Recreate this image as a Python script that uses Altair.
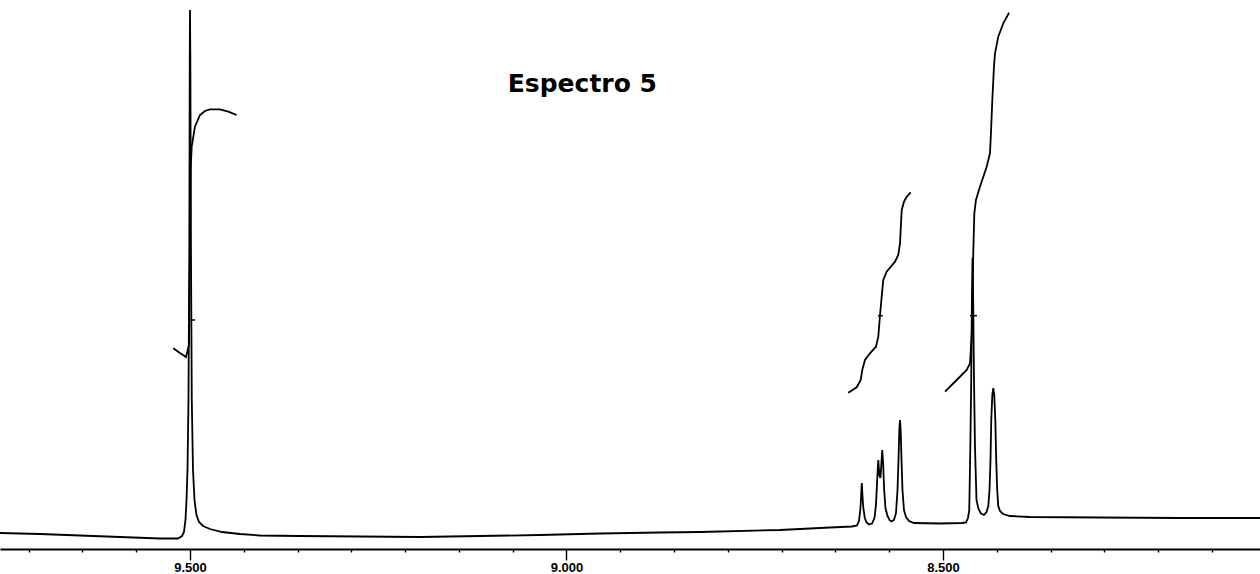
import altair as alt
import pandas as pd

# 1H NMR trace: chemical shift (ppm) and signal intensity (arbitrary units)
SPECTRUM_PPM = [
    9.7523, 9.6992, 9.6461, 9.5930, 9.5398, 9.5159, 9.5106, 9.5080, 9.5060, 9.5046,
    9.5033, 9.5020, 9.5009, 9.5003, 9.5000, 9.4995, 9.4987, 9.4976, 9.4960, 9.4940,
    9.4914, 9.4880, 9.4827, 9.4734, 9.4575, 9.4336, 9.4070, 9.3539, 9.2742, 9.1946,
    9.1149, 9.0352, 8.9555, 8.8758, 8.8227, 8.7165, 8.6501, 8.6209, 8.6142, 8.6116,
    8.6098, 8.6086, 8.6078, 8.6070, 8.6058, 8.6038, 8.6016, 8.5983, 8.5943, 8.5910,
    8.5890, 8.5874, 8.5859, 8.5846, 8.5830, 8.5817, 8.5806, 8.5794, 8.5781, 8.5764,
    8.5737, 8.5710, 8.5684, 8.5651, 8.5624, 8.5604, 8.5591, 8.5580, 8.5571, 8.5562,
    8.5551, 8.5538, 8.5518, 8.5491, 8.5451, 8.5385, 8.5040, 8.4748, 8.4695, 8.4668,
    8.4651, 8.4637, 8.4625, 8.4616, 8.4608, 8.4599, 8.4588, 8.4575, 8.4555, 8.4529,
    8.4495, 8.4456, 8.4422, 8.4398, 8.4382, 8.4369, 8.4359, 8.4345, 8.4332, 8.4319,
    8.4305, 8.4293, 8.4280, 8.4266, 8.4243, 8.4203, 8.4110, 8.3845, 8.2915, 8.1853,
    8.0790,
]
SPECTRUM_INT = [
    16, 15, 13.5, 12, 10.5, 10.5, 13, 17, 29, 49,
    79, 149, 299, 489, 539, 489, 299, 149, 79, 49,
    34, 27, 23, 20, 17, 15, 13.5, 13, 12.5, 12,
    13, 14, 15.5, 16.5, 17, 19, 21.5, 22.5, 23.5, 28,
    39, 54, 66, 54, 41, 31, 26.5, 24.5, 25.5, 31,
    44, 69, 89, 74, 71, 87, 99, 84, 59, 41,
    33, 29, 27.5, 29, 36, 59, 89, 119, 129, 119,
    89, 59, 39, 32, 28, 26, 25.5, 26, 26.5, 31,
    39, 102, 169, 249, 291, 249, 169, 102, 49, 40,
    35.5, 34, 37, 43, 59, 89, 129, 154, 161, 154,
    129, 89, 59, 43, 38, 35, 33, 32, 31.5, 31,
    31,
]

# Integral curves (same intensity units)
INTEGRAL_A_PPM = [9.5222, 9.5133, 9.5053, 9.5013, 9.5000, 9.4992, 9.4977,
                  9.4934, 9.4867, 9.4801, 9.4734, 9.4602, 9.4491, 9.4380]
INTEGRAL_A_INT = [200.7, 196, 192, 204, 299, 379, 402.3,
                  422.3, 434, 438, 439.7, 439.7, 437.3, 434]

INTEGRAL_B_PPM = [8.6258, 8.6146, 8.6093, 8.6072, 8.6036, 8.5970, 8.5890, 8.5859,
                  8.5837, 8.5814, 8.5793, 8.5748, 8.5637, 8.5594, 8.5571, 8.5562,
                  8.5548, 8.5518, 8.5482, 8.5429]
INTEGRAL_B_INT = [156.3, 161.7, 169, 179, 189, 195.7, 202.3, 212.3,
                  233.3, 252.3, 269, 277.3, 287.3, 294, 305.7, 319,
                  339, 347.3, 352.3, 356.7]

INTEGRAL_C_PPM = [8.4973, 8.4818, 8.4685, 8.4641, 8.4615, 8.4608, 8.4598, 8.4584,
                  8.4562, 8.4509, 8.4420, 8.4376, 8.4363, 8.4345, 8.4323, 8.4309,
                  8.4266, 8.4199, 8.4123]
INTEGRAL_C_INT = [157.3, 169, 179, 185.7, 219, 249, 295.7, 335.7,
                  349, 362.3, 382.3, 395.7, 415.7, 449, 482.3, 495.7,
                  512.3, 525.7, 536.3]

# Short cross marks at the integral mid-points
MID_FROM_PPM = [9.5009, 8.5864, 8.4641]
MID_TO_PPM = [9.4933, 8.5800, 8.4548]
MID_INT = [229, 233.3, 233.3]

# Axis ticks: seven subdivisions per 0.5 ppm
TICK_PPM = [9.7143, 9.6429, 9.5714, 9.5, 9.4286, 9.3571, 9.2857, 9.2143,
            9.1429, 9.0714, 9.0, 8.9286, 8.8571, 8.7857, 8.7143, 8.6429,
            8.5714, 8.5, 8.4286, 8.3571, 8.2857, 8.2143, 8.1429]

TITLE_TEXT = ["Espectro 5"]
TITLE_PPM = [9.078]
TITLE_INT = [457]

X_DOMAIN = [8.0790, 9.7523]
Y_DOMAIN = [0, 549]


def trace(name, ppm, level):
    return pd.DataFrame({"ppm": ppm, "level": level, "curve": name,
                         "seq": list(range(len(ppm)))})


curves = pd.concat([
    trace("spectrum", SPECTRUM_PPM, SPECTRUM_INT),
    trace("integral A", INTEGRAL_A_PPM, INTEGRAL_A_INT),
    trace("integral B", INTEGRAL_B_PPM, INTEGRAL_B_INT),
    trace("integral C", INTEGRAL_C_PPM, INTEGRAL_C_INT),
], ignore_index=True)

mids = pd.DataFrame({"p0": MID_FROM_PPM, "p1": MID_TO_PPM, "level": MID_INT})
title_df = pd.DataFrame({"text": TITLE_TEXT, "ppm": TITLE_PPM, "level": TITLE_INT})

x_scale = alt.Scale(domain=X_DOMAIN, reverse=True, nice=False, zero=False)
y_scale = alt.Scale(domain=Y_DOMAIN, nice=False, zero=False)

MAJOR_TEST = "abs(datum.value * 2 - round(datum.value * 2)) < 0.001"

x_axis = alt.Axis(
    values=TICK_PPM,
    title=None,
    grid=False,
    domainColor="black",
    domainWidth=2,
    tickColor="black",
    tickWidth=1.4,
    tickSize={"condition": {"test": MAJOR_TEST, "value": 11}, "value": 3},
    labelExpr=MAJOR_TEST + " ? format(datum.value, '.3f') : ''",
    labelFont="Liberation Sans",
    labelFontWeight="bold",
    labelFontSize=13,
    labelColor="black",
    labelPadding=1,
    labelOverlap=False,
    labelFlush=False,
    labelBound=False,
)

lines = alt.Chart(curves).mark_line(color="black", strokeWidth=1.8, clip=True).encode(
    x=alt.X("ppm:Q", scale=x_scale, axis=x_axis),
    y=alt.Y("level:Q", scale=y_scale, axis=None),
    detail="curve:N",
    order="seq:Q",
)

marks = alt.Chart(mids).mark_rule(color="black", strokeWidth=1.5).encode(
    x=alt.X("p0:Q", scale=x_scale),
    x2="p1:Q",
    y=alt.Y("level:Q", scale=y_scale),
)

title = alt.Chart(title_df).mark_text(
    align="left", baseline="alphabetic", font="Comic Sans MS, DejaVu Sans",
    fontSize=25, fontWeight="bold", color="black",
).encode(
    x=alt.X("ppm:Q", scale=x_scale),
    y=alt.Y("level:Q", scale=y_scale),
    text="text:N",
)

chart = alt.layer(lines, marks, title).properties(
    width=1260,
    height=549,
    autosize="none",
    padding={"left": 0, "right": 0, "top": 0, "bottom": 25},
    background="white",
).configure_view(stroke=None)

chart.save("out.html", embed_options={"renderer": "svg", "actions": False})
